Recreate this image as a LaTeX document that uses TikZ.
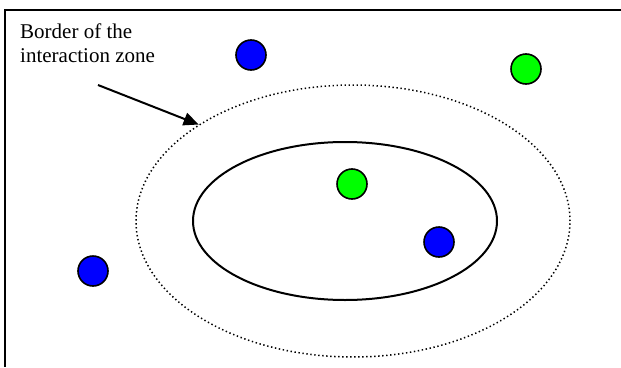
\documentclass[tikz,border=0pt]{standalone}
\usepackage{fontspec}
\setmainfont{Liberation Serif}
\usepackage{tikz}
\usetikzlibrary{shapes.geometric,arrows.meta,positioning}
\tikzset{
myParticle/.style={
	circle,draw=black,line width=1.6pt,
	inner sep=0pt,minimum size=30pt
}
, myBlue/.style={myParticle,fill=blue}
, myGreen/.style={myParticle,fill=green}
% zones
, myZone/.style={
	ellipse,draw,line width=1.5pt,
	dash pattern=on 1.4pt off 2.6pt,
	inner sep=0pt,minimum width=434pt,minimum height=272pt
}
, myCore/.style={
	ellipse,draw,line width=2pt,
	inner sep=0pt,minimum width=304pt,minimum height=158pt
}
% link
, myPointer/.style={-{Triangle[length=15pt,width=13pt]},line width=2pt}
, myLabel/.style={
	anchor=north west,inner sep=0pt,align=left,
	font=\fontsize{21pt}{24pt}\selectfont
}
}
\begin{document}
\begin{tikzpicture}[x=1pt,y=-1pt]
	\useasboundingbox (0,0) rectangle (621,367);
	% frame
	\draw[line width=1.6pt] (621,10) -- (5,10) -- (5,367);
	% zones
	\node[myZone] (Zone) at (353,221) {};
	\node[myCore] (Core) at (345,221) {};
	% particles
	\node[myBlue]  (BlueA)  at (251,55)  {};
	\node[myGreen] (GreenA) at (526,69)  {};
	\node[myGreen] (GreenB) at (352,184) {};
	\node[myBlue]  (BlueB)  at (439,242) {};
	\node[myBlue]  (BlueC)  at (93,271)  {};
	% label
	\node[myLabel] (Label) at (20,23.5) {Border of the\\interaction zone};
	\coordinate (PointerTail) at (98,85);
	\draw[myPointer] (PointerTail) -- (Zone.148);
\end{tikzpicture}
\end{document}
